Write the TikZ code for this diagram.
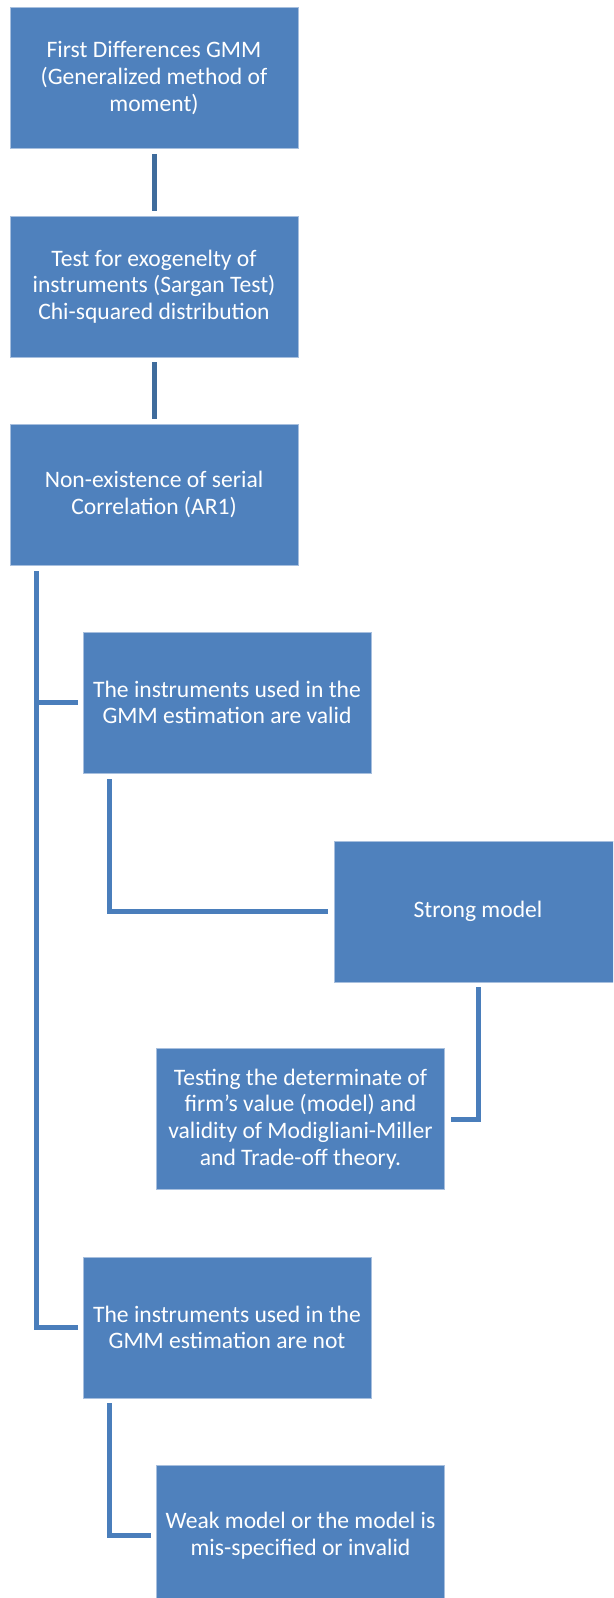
\documentclass[tikz,border=0pt]{standalone}
\usepackage{fontspec}
\setmainfont{Carlito}
\definecolor{boxblue}{HTML}{4F81BD}
\definecolor{boxedge}{HTML}{A7BFDE}
\definecolor{linkblue}{HTML}{4A7EBB}
\definecolor{linkdark}{HTML}{3F6C9C}
\begin{document}
\begin{tikzpicture}[x=1pt,y=1pt,
  box/.style={rectangle, fill=boxblue, draw=boxedge, line width=0.6pt,
    minimum width=288pt, minimum height=141pt, align=center,
    text=white, inner sep=0pt, font=\fontsize{23.6}{26.7}\selectfont},
  link/.style={draw=linkblue, line width=5pt, line join=miter},
  linkd/.style={draw=linkdark, line width=5pt, line join=miter}]
\useasboundingbox (0,0) rectangle (613,-1598);
\clip (0,0) rectangle (613,-1598);
\node[box] (b1) at (154,-78) {First Differences GMM\\(Generalized method of\\moment)};
\node[box] (b2) at (154,-286.5) {Test for exogenelty of\\instruments (Sargan Test)\\Chi-squared distribution};
\node[box] (b3) at (154,-494.5) {Non-existence of serial\\Correlation (AR1)};
\node[box] (b4) at (227,-702.5) {The instruments used in the\\GMM estimation are valid};
\node[box] (b5) at (478,-911.5) {Strong model};
\node[box] (b6) at (300.5,-1119) {Testing the determinate of\\firm’s value (model) and\\validity of Modigliani-Miller\\and Trade-off theory.};
\node[box] (b7) at (227,-1327.5) {The instruments used in the\\GMM estimation are not};
\node[box] (b8) at (300.5,-1535.5) {Weak model or the model is\\mis-specified or invalid};
\coordinate (spinetop) at ([xshift=27pt,yshift=-6pt]b3.south west);
\draw[linkd] ([yshift=-5pt]b1.south) -- ([yshift=5pt]b2.north);
\draw[linkd] ([yshift=-5pt]b2.south) -- ([yshift=5pt]b3.north);
\draw[link] (spinetop) |- ([xshift=-5pt]b7.west);
\draw[link] (spinetop |- b4.west) -- ([xshift=-5pt]b4.west);
\draw[link] ([xshift=27pt,yshift=-6pt]b4.south west) |- ([xshift=-6pt]b5.west);
\draw[link] ([yshift=-5pt]b5.south) |- ([xshift=6pt]b6.east);
\draw[link] ([xshift=27pt,yshift=-5pt]b7.south west) |- ([xshift=-5pt]b8.west);
\end{tikzpicture}
\end{document}
